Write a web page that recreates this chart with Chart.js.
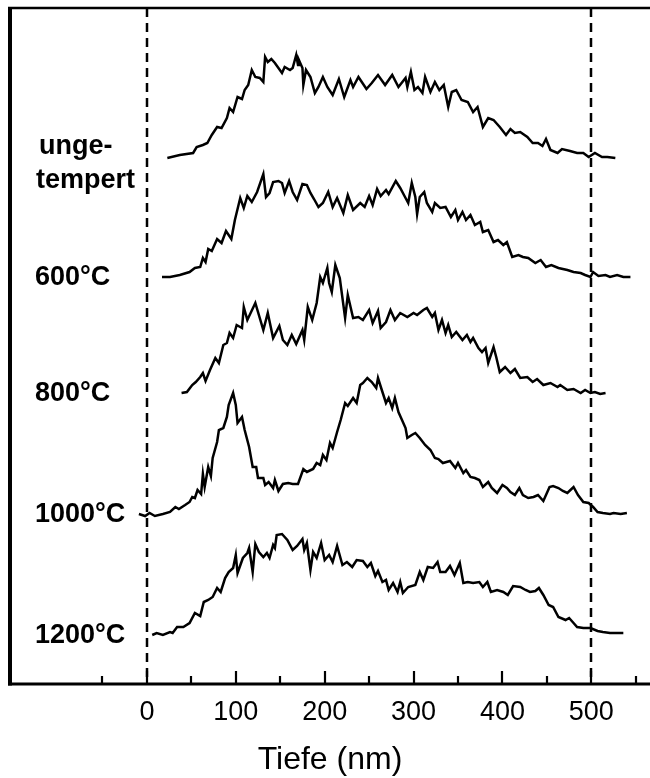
<!DOCTYPE html>
<html><head><meta charset="utf-8">
<script src="https://cdn.jsdelivr.net/npm/chart.js@4/dist/chart.umd.min.js"></script>
<style>html,body{margin:0;padding:0;background:#fff}canvas{display:block}</style>
</head><body>
<canvas id="c" width="650" height="778"></canvas>
<script>
// Series names (left-hand labels), one per curve (top to bottom)
const seriesNames = [["unge-", "tempert"], ["600°C"], ["800°C"], ["1000°C"], ["1200°C"]];

// Depth profiles: [depth (nm), offset signal]
const ungetempert = [[23,526],[37,529],[52,531],[56,537],[63,539],[68,541],[73,549],[79,557],[84,556],[90,566],[93,576],[97,572],[102,587],[107,585],[110,594],[114,599],[118,614],[122,607],[127,606],[131,602],[133,627],[136,622],[140,625],[144,621],[152,611],[155,617],[161,614],[164,616],[168,629],[170,619],[171,624],[175,616],[176,599],[179,614],[184,607],[189,591],[193,597],[198,607],[203,597],[209,589],[216,605],[222,587],[229,604],[232,597],[238,607],[247,595],[253,601],[260,609],[268,599],[276,609],[283,597],[291,606],[293,597],[297,612],[301,594],[305,597],[310,591],[313,607],[319,592],[324,602],[329,594],[334,599],[339,577],[343,592],[348,594],[354,584],[361,582],[367,572],[372,577],[378,557],[384,566],[390,564],[397,557],[404,549],[409,555],[414,551],[420,552],[428,547],[434,541],[440,541],[445,538],[449,545],[454,534],[462,531],[467,535],[476,533],[484,531],[491,531],[497,527],[504,531],[512,527],[518,527],[527,526]];

const t600 = [[17,407],[26,407],[37,409],[48,412],[54,416],[60,417],[63,426],[66,422],[69,435],[73,433],[79,445],[84,441],[89,453],[95,445],[99,464],[105,486],[109,476],[113,488],[118,482],[124,492],[131,510],[134,487],[138,491],[142,502],[148,503],[152,501],[155,491],[160,503],[164,492],[169,484],[175,500],[180,499],[184,491],[188,485],[193,477],[198,481],[204,492],[209,477],[214,486],[221,471],[226,489],[232,474],[240,481],[245,477],[250,488],[254,479],[259,495],[263,488],[269,494],[272,490],[280,503],[285,496],[291,486],[294,481],[298,501],[302,487],[304,470],[307,487],[312,492],[315,481],[321,472],[324,481],[330,476],[336,477],[342,467],[347,474],[350,464],[355,472],[359,464],[364,469],[369,459],[375,462],[378,452],[384,454],[390,442],[395,444],[401,439],[405,442],[411,427],[418,429],[423,427],[429,426],[437,421],[443,424],[449,417],[455,419],[463,416],[473,414],[480,412],[488,411],[493,409],[499,407],[502,412],[508,408],[516,409],[521,407],[529,409],[536,407],[544,407]];

const t800 = [[39,291],[45,292],[51,299],[55,302],[60,307],[63,311],[66,303],[71,314],[77,326],[81,321],[86,339],[90,341],[93,351],[97,346],[101,359],[107,356],[109,377],[113,364],[122,381],[131,354],[136,371],[142,346],[149,358],[153,344],[158,339],[163,349],[168,340],[175,354],[177,344],[181,377],[186,364],[191,381],[195,407],[198,401],[203,416],[205,401],[208,392],[212,419],[217,406],[223,366],[226,389],[232,366],[238,367],[243,364],[250,374],[254,361],[260,373],[263,356],[269,362],[274,374],[279,364],[285,371],[293,367],[300,371],[304,369],[311,374],[315,376],[321,367],[324,371],[328,354],[332,364],[336,351],[339,359],[343,347],[348,352],[355,344],[360,349],[364,342],[367,346],[373,336],[377,332],[381,336],[384,321],[390,337],[393,327],[397,312],[403,317],[409,311],[414,315],[420,306],[428,307],[434,302],[439,305],[446,299],[454,301],[462,297],[465,299],[473,294],[480,295],[488,291],[493,294],[499,291],[504,292],[510,290],[516,291]];

const t1000 = [[-9,170],[-2,168],[3,171],[9,168],[18,170],[26,172],[32,177],[36,175],[43,179],[48,182],[51,187],[54,186],[57,194],[61,190],[63,210],[65,197],[69,217],[72,208],[74,226],[79,242],[81,254],[86,256],[90,267],[92,279],[97,291],[100,279],[102,261],[107,267],[110,254],[115,237],[119,217],[123,217],[125,206],[131,206],[133,199],[137,202],[142,196],[144,204],[148,193],[153,200],[159,201],[164,200],[170,200],[176,215],[180,212],[187,215],[191,221],[195,219],[198,229],[202,224],[206,241],[209,236],[214,252],[218,264],[223,281],[226,278],[232,286],[236,281],[240,299],[243,301],[248,306],[253,302],[258,296],[260,306],[265,292],[269,281],[272,286],[276,276],[279,286],[283,272],[287,264],[291,256],[293,246],[298,249],[302,251],[307,246],[313,239],[319,234],[324,226],[328,225],[333,221],[341,223],[347,216],[350,221],[356,211],[359,214],[364,207],[369,206],[374,204],[378,197],[384,202],[388,196],[394,191],[400,199],[405,196],[409,192],[414,189],[419,196],[423,189],[429,186],[435,187],[440,189],[446,183],[453,197],[457,198],[463,196],[468,193],[473,191],[480,197],[485,189],[491,182],[497,181],[502,177],[507,172],[513,171],[521,170],[525,171],[533,170],[540,171]];

const t1200 = [[6,49],[11,51],[18,49],[26,52],[29,51],[34,57],[41,57],[48,61],[54,71],[60,68],[64,82],[69,84],[74,87],[79,96],[83,92],[88,106],[92,112],[97,116],[100,129],[102,111],[108,126],[113,131],[115,136],[119,112],[122,140],[126,132],[131,127],[135,131],[138,126],[142,139],[144,136],[146,149],[152,150],[158,144],[164,134],[169,138],[175,145],[177,134],[180,141],[184,114],[187,132],[191,126],[196,141],[200,124],[205,129],[209,122],[214,138],[220,119],[225,122],[231,117],[236,124],[243,123],[248,117],[252,121],[257,108],[260,113],[265,102],[269,104],[272,94],[277,101],[282,92],[285,102],[288,91],[294,97],[302,99],[307,112],[311,104],[316,117],[322,116],[327,122],[330,112],[336,112],[341,118],[346,109],[352,121],[356,101],[361,102],[367,101],[374,102],[378,97],[383,102],[387,92],[394,94],[401,92],[406,89],[412,98],[420,97],[426,94],[431,92],[437,93],[441,96],[446,89],[452,79],[457,77],[463,67],[471,64],[475,66],[480,61],[484,57],[491,56],[499,56],[507,53],[513,52],[521,51],[529,51],[536,51]];

const profiles = [ungetempert, t600, t800, t1000, t1200];

// Axis
const xTickLabels = [0, 100, 200, 300, 400, 500];
const xMinorTicks = [-50, 50, 150, 250, 350, 450, 550];
const markerDepths = [0, 500];

const FONT = "'Liberation Sans', Arial, Helvetica, sans-serif";

const framePlugin = {
  id: 'frame',
  afterDraw(chart) {
    const ctx = chart.ctx;
    const a = chart.chartArea;
    const xs = chart.scales.x, ys = chart.scales.y;
    ctx.save();
    ctx.strokeStyle = '#000';
    ctx.lineCap = 'butt';
    // dashed marker lines
    ctx.setLineDash([9, 6]);
    ctx.lineWidth = 2.5;
    markerDepths.forEach(v => {
      const px = Math.round(xs.getPixelForValue(v));
      ctx.beginPath(); ctx.moveTo(px, a.top); ctx.lineTo(px, a.bottom); ctx.stroke();
    });
    ctx.setLineDash([]);
    // frame
    ctx.lineWidth = 4;
    ctx.beginPath(); ctx.moveTo(a.left, a.top - 1); ctx.lineTo(a.left, a.bottom + 1.5); ctx.stroke();
    ctx.lineWidth = 2.5;
    ctx.beginPath(); ctx.moveTo(a.left - 2, a.top); ctx.lineTo(a.right, a.top); ctx.stroke();
    ctx.lineWidth = 3;
    ctx.beginPath(); ctx.moveTo(a.left - 2, a.bottom); ctx.lineTo(a.right, a.bottom); ctx.stroke();
    // ticks (pointing inward)
    ctx.lineWidth = 2.2;
    xTickLabels.forEach(v => {
      const px = Math.round(xs.getPixelForValue(v));
      ctx.beginPath(); ctx.moveTo(px, a.bottom); ctx.lineTo(px, a.bottom - 13); ctx.stroke();
    });
    xMinorTicks.forEach(v => {
      const px = Math.round(xs.getPixelForValue(v));
      ctx.beginPath(); ctx.moveTo(px, a.bottom); ctx.lineTo(px, a.bottom - 8); ctx.stroke();
    });
    // series labels
    ctx.fillStyle = '#000';
    ctx.font = 'bold 27px ' + FONT;
    ctx.textAlign = 'left';
    ctx.textBaseline = 'middle';
    seriesNames.forEach((lines, i) => {
      const base = ys.getPixelForValue(profiles[i][0][1]);
      if (lines.length === 1) {
        ctx.fillText(lines[0], 35, base + 1);
      } else {
        ctx.fillText(lines[0], 39, base - 11);
        ctx.fillText(lines[1], 36, base + 23);
      }
    });
    ctx.restore();
  }
};

new Chart(document.getElementById('c'), {
  type: 'line',
  data: {
    datasets: profiles.map((p, i) => ({
      label: seriesNames[i].join(''),
      data: p,
      borderColor: '#000',
      borderWidth: 2.5,
      pointRadius: 0,
      tension: 0,
      fill: false
    }))
  },
  options: {
    responsive: false,
    animation: false,
    devicePixelRatio: 1,
    layout: { padding: { left: 10, top: 8, right: 0, bottom: 0 } },
    plugins: { legend: { display: false }, tooltip: { enabled: false } },
    scales: {
      x: {
        type: 'linear',
        min: -154,
        max: 566,
        border: { display: false },
        grid: { display: false, drawTicks: false },
        afterBuildTicks: axis => { axis.ticks = xTickLabels.map(v => ({ value: v })); },
        afterFit: s => { s.height = 94; },
        ticks: {
          color: '#000',
          autoSkip: false,
          maxRotation: 0,
          padding: 12,
          font: { family: FONT, size: 27 }
        },
        title: {
          display: true,
          text: 'Tiefe (nm)',
          color: '#000',
          font: { family: FONT, size: 32, lineHeight: 1 },
          padding: { top: 4, bottom: 2 }
        }
      },
      y: { display: false, min: 0, max: 676 }
    }
  },
  plugins: [framePlugin]
});
</script>
</body></html>
